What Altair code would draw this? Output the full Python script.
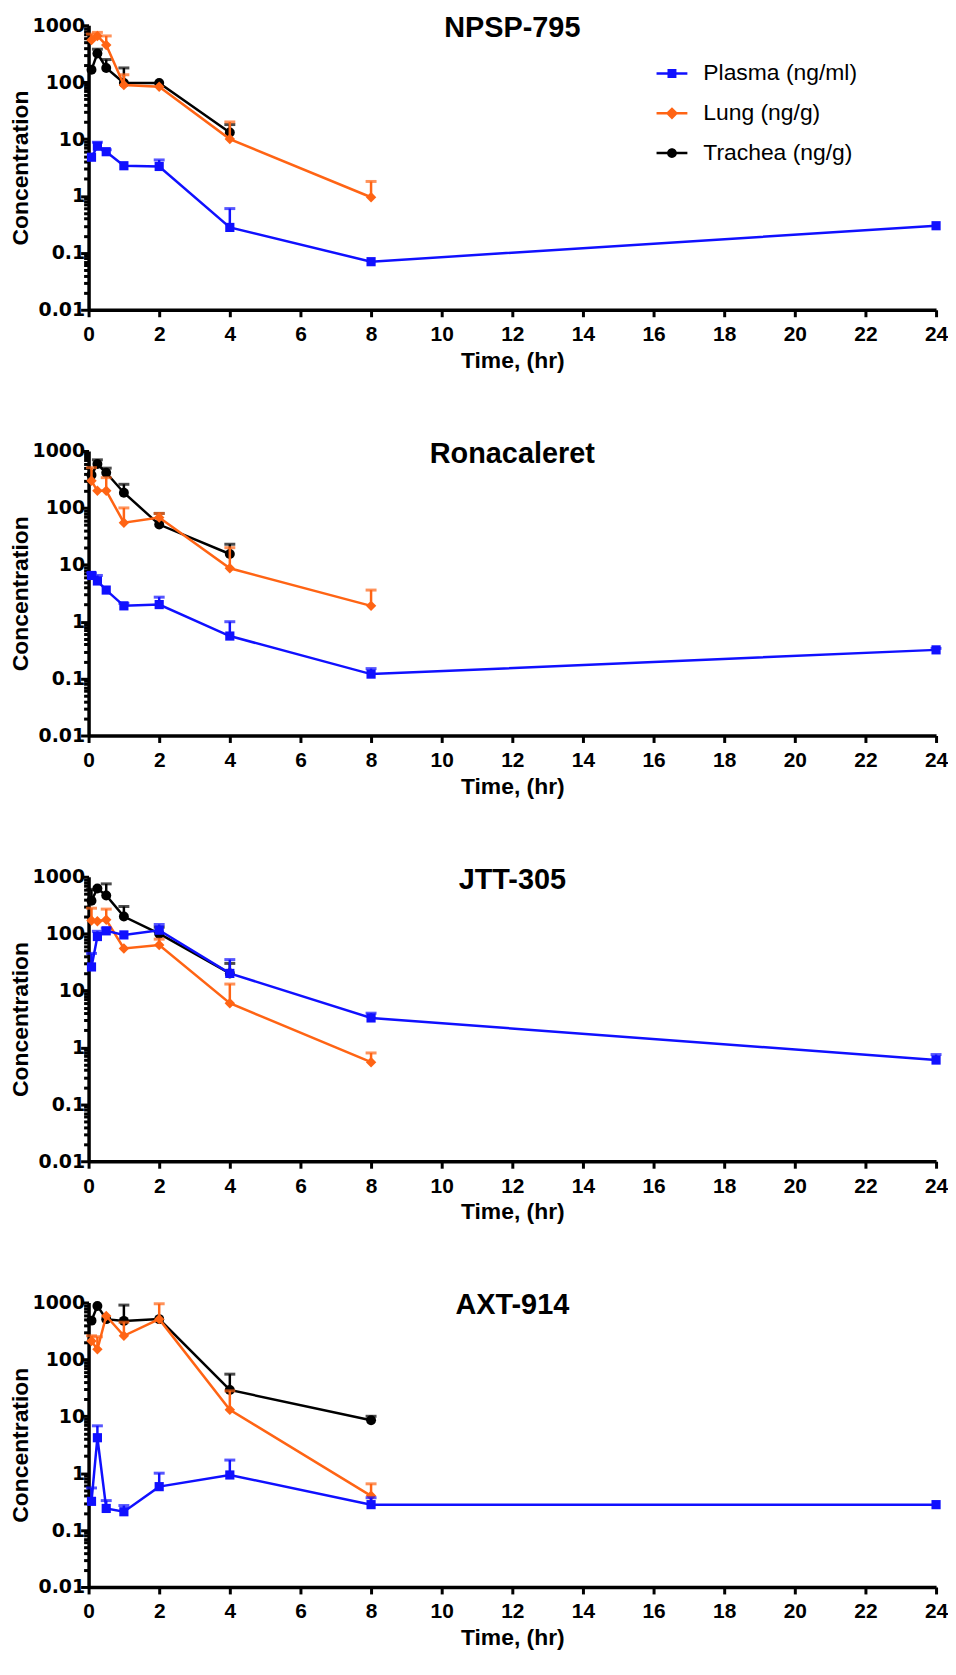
import altair as alt
import pandas as pd

TIME = [0.083, 0.25, 0.5, 1, 2, 4, 8, 24]
SERIES = ["Plasma (ng/ml)", "Lung (ng/g)", "Trachea (ng/g)"]
COLORS = ["#1010FF", "#FF6414", "#000000"]
SHAPES = ["square", "diamond", "circle"]
COMPOUNDS = ["NPSP-795", "Ronacaleret", "JTT-305", "AXT-914"]
X_TICKS = list(range(0, 25, 2))
Y_TICKS = [m * 10.0 ** e for e in range(-2, 3) for m in range(1, 10)] + [1000.0]

# NPSP-795
npsp_plasma = [4.8, 7.5, 6.0, 3.4, 3.3, 0.28, 0.07, 0.30]
npsp_plasma_up = [None, 8.8, 6.5, None, 4.3, 0.6, None, None]
npsp_lung = [550, 650, 450, 89, 83, 10, 0.95]
npsp_lung_up = [700, 750, 650, 135, None, 20, 1.8]
npsp_trachea = [165, 320, 178, 97, 97, 13]
npsp_trachea_up = [None, 380, 250, 178, None, 18]

# Ronacaleret
rona_plasma = [6.5, 5.2, 3.6, 1.9, 2.0, 0.56, 0.12, 0.32]
rona_plasma_up = [7.2, 6.5, None, 2.1, 2.7, 1.0, 0.15, 0.34]
rona_lung = [300, 200, 200, 55, 68, 8.7, 1.9]
rona_lung_up = [510, None, 340, 100, 80, 20, 3.6]
rona_trachea = [380, 590, 415, 185, 51, 15.5]
rona_trachea_up = [None, 700, 500, 260, 80, 23]

# JTT-305
jtt_plasma = [26, 89, 112, 95, 115, 20, 3.3, 0.6]
jtt_plasma_up = [45, 110, 125, None, 145, 35, 4.0, 0.75]
jtt_lung = [170, 165, 175, 55, 63, 6.0, 0.55]
jtt_lung_up = [280, None, 270, None, 80, 13, 0.8]
jtt_trachea = [380, 620, 470, 200, 100, 20]
jtt_trachea_up = [600, None, 750, 300, 130, 30]

# AXT-914
axt_plasma = [0.32, 4.2, 0.24, 0.21, 0.58, 0.93, 0.28, 0.28]
axt_plasma_up = [0.55, 6.8, 0.33, 0.27, 1.0, 1.7, 0.37, None]
axt_lung = [210, 150, 580, 260, 510, 13, 0.4]
axt_lung_up = [260, 250, None, 450, 950, 28, 0.65]
axt_trachea = [480, 870, 510, 475, 510, 29, 8.5]
axt_trachea_up = [None, None, None, 900, None, 55, 10]

PANELS = {
    "NPSP-795": [(npsp_plasma, npsp_plasma_up), (npsp_lung, npsp_lung_up), (npsp_trachea, npsp_trachea_up)],
    "Ronacaleret": [(rona_plasma, rona_plasma_up), (rona_lung, rona_lung_up), (rona_trachea, rona_trachea_up)],
    "JTT-305": [(jtt_plasma, jtt_plasma_up), (jtt_lung, jtt_lung_up), (jtt_trachea, jtt_trachea_up)],
    "AXT-914": [(axt_plasma, axt_plasma_up), (axt_lung, axt_lung_up), (axt_trachea, axt_trachea_up)],
}

LEGEND_PATHS = [
    "M-1,-0.08H1V0.08H-1Z M-0.29,-0.29H0.29V0.29H-0.29Z",
    "M-1,-0.08H1V0.08H-1Z M0,-0.4L0.4,0L0,0.4L-0.4,0Z",
    "M-1,-0.08H1V0.08H-1Z M0.32,0A0.32,0.32 0 1,1 -0.32,0A0.32,0.32 0 1,1 0.32,0Z",
]

FONT = "Liberation Sans"
MAJOR = "abs(log(datum.value)/LN10 - round(log(datum.value)/LN10)) < 0.001"
W, H = 852, 286

xscale = alt.Scale(domain=[0, 24], nice=False, zero=False)
yscale = alt.Scale(type="log", domain=[0.01, 1000], nice=False)

xaxis = alt.Axis(values=X_TICKS, title="Time, (hr)", tickSize=7, labelPadding=7,
                 titlePadding=5, labelFlush=False, labelFont=FONT, labelFontSize=21)
yaxis = alt.Axis(values=Y_TICKS, format="~g", labelExpr=f"{MAJOR} ? datum.label : ''",
                 tickSize={"condition": {"test": MAJOR, "value": 8}, "value": 5},
                 labelFont="DejaVu Sans", labelFontSize=19,
                 title="Concentration", labelPadding=-4, titleX=-68, titleY=H / 2,
                 titleBaseline="middle", titleAlign="center")


def panel(name, with_legend):
    rows = []
    for s, (vals, ups) in zip(SERIES, PANELS[name]):
        for t, v, u in zip(TIME, vals, ups):
            rows.append({"series": s, "time": t, "value": v, "upper": u})
    df = pd.DataFrame(rows)
    layers = []
    for s, c, sh in reversed(list(zip(SERIES, COLORS, SHAPES))):
        base = alt.Chart(df).transform_filter(alt.datum.series == s)
        x = alt.X("time:Q", scale=xscale, axis=xaxis)
        y = alt.Y("value:Q", scale=yscale, axis=yaxis)
        line = base.mark_line(color=c, strokeWidth=2.5).encode(x=x, y=y)
        err = base.transform_filter("isValid(datum.upper)").mark_rule(
            color=c, strokeWidth=2.5).encode(x=x, y=y, y2="upper:Q")
        cap = base.transform_filter("isValid(datum.upper)").mark_tick(
            color=c, orient="horizontal", size=11, thickness=3).encode(
            x=x, y=alt.Y("upper:Q", scale=yscale, axis=yaxis))
        pts = base.mark_point(shape=sh, filled=True, color=c, opacity=1,
                              size={"square": 85, "diamond": 110, "circle": 100}[sh]).encode(x=x, y=y)
        layers += [line, err, cap, pts]
    if with_legend:
        leg = alt.Legend(title=None, orient="none", legendX=571, legendY=33,
                         symbolSize=961, labelFont=FONT, labelFontSize=23,
                         labelColor="black", labelOffset=16, rowPadding=12,
                         padding=0, symbolStrokeWidth=0, labelLimit=400)
        lg = alt.Chart(df).transform_filter("datum.time < 0").mark_point(
            filled=True, opacity=1).encode(
            x=alt.X("time:Q", scale=xscale, axis=xaxis),
            y=alt.Y("value:Q", scale=yscale, axis=yaxis),
            shape=alt.Shape("series:N", scale=alt.Scale(domain=SERIES, range=LEGEND_PATHS), legend=leg),
            color=alt.Color("series:N", scale=alt.Scale(domain=SERIES, range=COLORS), legend=leg),
        )
        layers.append(lg)
    return alt.layer(*layers).properties(
        width=W, height=H,
        title=alt.TitleParams(text=name, font=FONT, fontSize=29, fontWeight="bold",
                              anchor="middle", offset=-27, color="black"),
    )


chart = alt.vconcat(*[panel(n, i == 0) for i, n in enumerate(COMPOUNDS)], spacing=68).properties(
    padding={"left": 2, "top": 2, "right": 0, "bottom": 0}
).configure(
    background="white"
).configure_axis(
    domainColor="black", domainWidth=3.5, tickColor="black", tickWidth=3, grid=False,
    labelFontWeight="bold", labelColor="black",
    titleFont=FONT, titleFontSize=23, titleFontWeight="bold", titleColor="black",
).configure_view(stroke=None)

chart.save("out.html", embed_options={"renderer": "svg", "actions": False})
